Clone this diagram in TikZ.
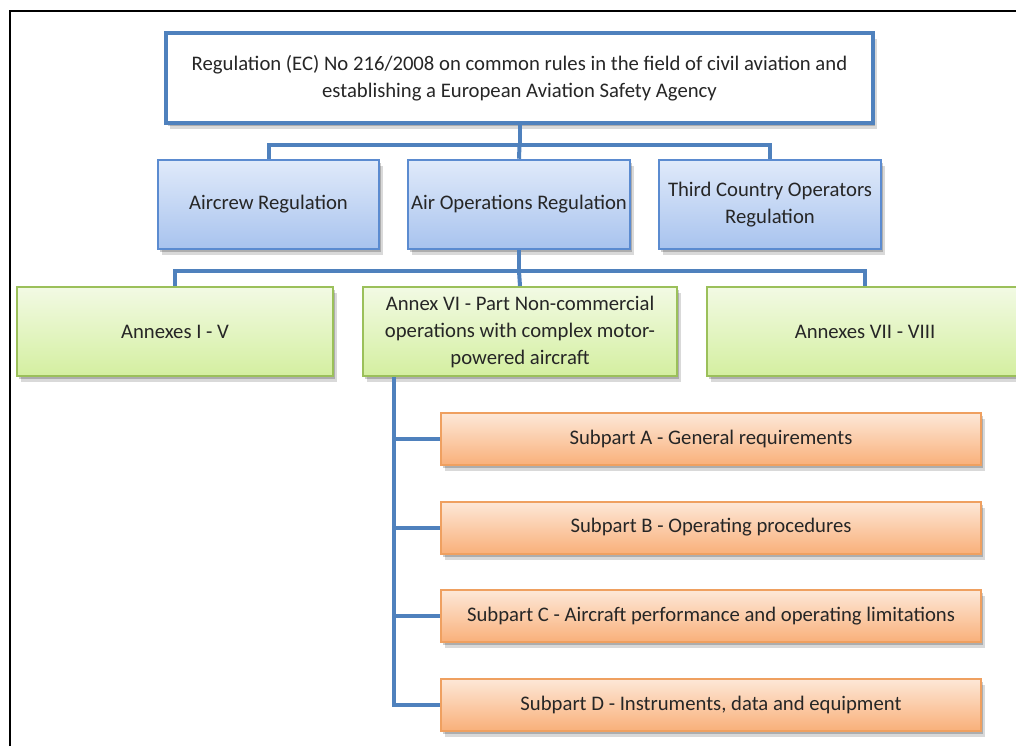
\documentclass[tikz,border=0pt]{standalone}
\usepackage{fontspec}
\setmainfont{Carlito}
\usetikzlibrary{shadows,calc}
\definecolor{connc}{HTML}{4F81BD}
\definecolor{txt}{HTML}{262626}
\definecolor{blueT}{HTML}{E0EAFA}
\definecolor{blueB}{HTML}{A8C3EE}
\definecolor{blueD}{HTML}{5B8BD0}
\definecolor{greenT}{HTML}{F2FAE4}
\definecolor{greenB}{HTML}{D4EFA0}
\definecolor{greenD}{HTML}{9BC05A}
\definecolor{orT}{HTML}{FDE8D8}
\definecolor{orB}{HTML}{F9B07A}
\definecolor{orD}{HTML}{EFA060}
\tikzset{
  x=1pt,y=1pt,
  base/.style={rectangle, align=center, text=txt, inner sep=2pt,
    font=\fontsize{20.7}{27}\selectfont,
    drop shadow={shadow xshift=2pt, shadow yshift=-3pt, opacity=0.2, fill=black},
    drop shadow={shadow xshift=4pt, shadow yshift=-6pt, opacity=0.15, fill=black}},
  topbox/.style={base, draw=connc, line width=4pt, fill=white},
  bluebox/.style={base, draw=blueD, line width=2.5pt, top color=blueT, bottom color=blueB},
  greenbox/.style={base, draw=greenD, line width=2pt, top color=greenT, bottom color=greenB},
  orbox/.style={base, draw=orD, line width=2pt, top color=orT, bottom color=orB},
  conn/.style={draw=connc, line width=4pt}
}
\begin{document}
\begin{tikzpicture}
\fill[white] (0,0) rectangle (1016,-746);
\useasboundingbox (0,0) rectangle (1016,-746);
\draw[line width=2pt] (10,-746) -- (10,-11) -- (1016,-11);

\node[topbox, minimum width=707pt, minimum height=90pt] (top) at (519.5,-78) {Regulation (EC) No 216/2008 on common rules in the field of civil aviation and\\establishing a European Aviation Safety Agency};
\node[bluebox, minimum width=221pt, minimum height=89pt] (aircrew) at (268.5,-204.5) {Aircrew Regulation};
\node[bluebox, minimum width=222pt, minimum height=89pt] (airops) at (519,-204.5) {Air Operations Regulation};
\node[bluebox, minimum width=222pt, minimum height=89pt] (third) at (770,-204.5) {Third Country Operators\\Regulation};
\node[greenbox, minimum width=316pt, minimum height=89pt] (ann1) at (175,-331.5) {Annexes I - V};
\node[greenbox, minimum width=314pt, minimum height=89pt] (ann6) at (520,-331.5) {Annex VI - Part Non-commercial\\operations with complex motor-\\powered aircraft};
\node[greenbox, minimum width=316pt, minimum height=89pt] (ann7) at (865,-331.5) {Annexes VII - VIII};
\node[orbox, minimum width=540pt, minimum height=52pt] (subA) at (711,-439) {Subpart A - General requirements};
\node[orbox, minimum width=540pt, minimum height=52pt] (subB) at (711,-527.5) {Subpart B - Operating procedures};
\node[orbox, minimum width=540pt, minimum height=52pt] (subC) at (711,-616) {Subpart C - Aircraft performance and operating limitations};
\node[orbox, minimum width=540pt, minimum height=52pt] (subD) at (711,-704.5) {Subpart D - Instruments, data and equipment};

\draw[conn] (top.south) -- ++(0,-20) coordinate (j1);
\draw[conn] (aircrew.north) |- (j1) -| (third.north);
\draw[conn] (j1) -- (airops.north);
\draw[conn] (airops.south) -- ++(0,-21) coordinate (j2);
\draw[conn] (ann1.north) |- (j2) -| (ann7.north);
\draw[conn] (j2) -- (ann6.north);
\draw[conn] ($(ann6.south west)+(32,0)$) coordinate (v0) |- (subD.west);
\draw[conn] (v0) |- (subA.west);
\draw[conn] (v0) |- (subB.west);
\draw[conn] (v0) |- (subC.west);
\end{tikzpicture}
\end{document}
